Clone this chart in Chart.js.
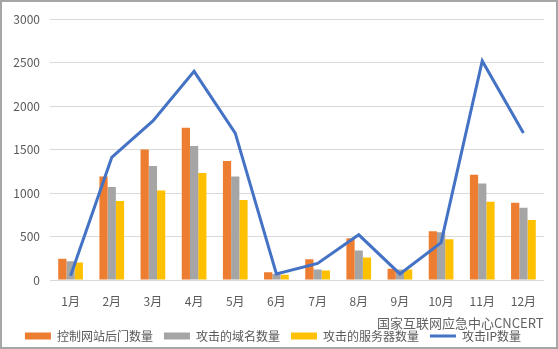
<!DOCTYPE html>
<html>
<head>
<meta charset="utf-8">
<script src="https://cdn.jsdelivr.net/npm/chart.js@4"></script>
<style>
    body { margin: 0; background: #fff; }
    .frame { width: 558px; height: 349px; box-sizing: border-box; border: 2px solid #a6a6a6; background: #fff; }
    canvas { display: block; }
</style>
</head>
<body>
<div class="frame"><canvas id="canvas" width="554" height="345"></canvas></div>
<script>
var months = ['1月', '2月', '3月', '4月', '5月', '6月', '7月', '8月', '9月', '10月', '11月', '12月'];
var backdoorCounts = [245, 1190, 1500, 1750, 1370, 90, 240, 480, 130, 560, 1210, 890];
var domainCounts = [215, 1070, 1310, 1540, 1190, 70, 120, 340, 120, 550, 1110, 830];
var serverCounts = [200, 910, 1030, 1230, 920, 60, 110, 260, 120, 470, 900, 690];
var ipCounts = [50, 1410, 1830, 2400, 1690, 70, 190, 520, 70, 430, 2520, 1690];
var yTicks = [0, 500, 1000, 1500, 2000, 2500, 3000];

var cjkFont = '"Noto Sans CJK SC", "Noto Sans", sans-serif';

// watermark text over the lower right corner
var watermark = {
    id: 'watermark',
    afterDraw: function (chart) {
        var ctx = chart.ctx;
        ctx.save();
        ctx.font = '13px ' + cjkFont;
        ctx.textBaseline = 'middle';
        ctx.lineWidth = 3;
        ctx.strokeStyle = 'rgba(255,255,255,0.8)';
        ctx.fillStyle = 'rgba(70,70,70,0.85)';
        ctx.strokeText('国家互联网应急中心CNCERT', 375, 321);
        ctx.fillText('国家互联网应急中心CNCERT', 375, 321);
        ctx.restore();
    }
};

var ctx = document.getElementById('canvas');
var myChart = new Chart(ctx, {
    type: 'bar',
    data: {
        labels: months,
        datasets: [
            { label: '控制网站后门数量', data: backdoorCounts, backgroundColor: '#ED7D31', order: 1 },
            { label: '攻击的域名数量', data: domainCounts, backgroundColor: '#A5A5A5', order: 1 },
            { label: '攻击的服务器数量', data: serverCounts, backgroundColor: '#FFC000', order: 1 },
            {
                type: 'line', label: '攻击IP数量', data: ipCounts,
                borderColor: '#4472C4', backgroundColor: '#4472C4',
                borderWidth: 3, pointRadius: 0, tension: 0, order: 0
            }
        ]
    },
    options: {
        responsive: false,
        animation: false,
        datasets: {
            bar: { barPercentage: 1, categoryPercentage: 0.6 }
        },
        layout: { padding: { top: 6, right: 12, left: 0, bottom: -5 } },
        plugins: {
            tooltip: { enabled: false },
            legend: {
                position: 'bottom',
                labels: {
                    usePointStyle: true,
                    pointStyleWidth: 26,
                    boxHeight: 7,
                    padding: 11,
                    color: '#595959',
                    font: { family: cjkFont, size: 12 },
                    sort: function (a, b) { return a.datasetIndex - b.datasetIndex; },
                    generateLabels: function (chart) {
                        var items = Chart.defaults.plugins.legend.labels.generateLabels(chart);
                        items.forEach(function (item) {
                            var isLine = item.datasetIndex === 3;
                            item.pointStyle = isLine ? 'line' : 'rect';
                            item.lineWidth = isLine ? 3 : 0;
                        });
                        return items;
                    }
                }
            }
        },
        scales: {
            x: {
                grid: { display: false },
                border: { display: false },
                ticks: { color: '#595959', font: { family: cjkFont, size: 12 }, padding: 6 },
                afterFit: function (scale) { scale.height = 39; }
            },
            y: {
                min: 0,
                max: 3000,
                afterBuildTicks: function (scale) {
                    scale.ticks = yTicks.map(function (v) { return { value: v }; });
                },
                grid: { color: '#d9d9d9', lineWidth: 1, drawTicks: false },
                border: { display: false },
                ticks: {
                    color: '#595959',
                    font: { family: cjkFont, size: 12 },
                    padding: 10,
                    callback: function (value) { return String(value); }
                },
                afterFit: function (scale) { scale.width = 48; }
            }
        }
    },
    plugins: [watermark]
});
</script>
</body>
</html>
